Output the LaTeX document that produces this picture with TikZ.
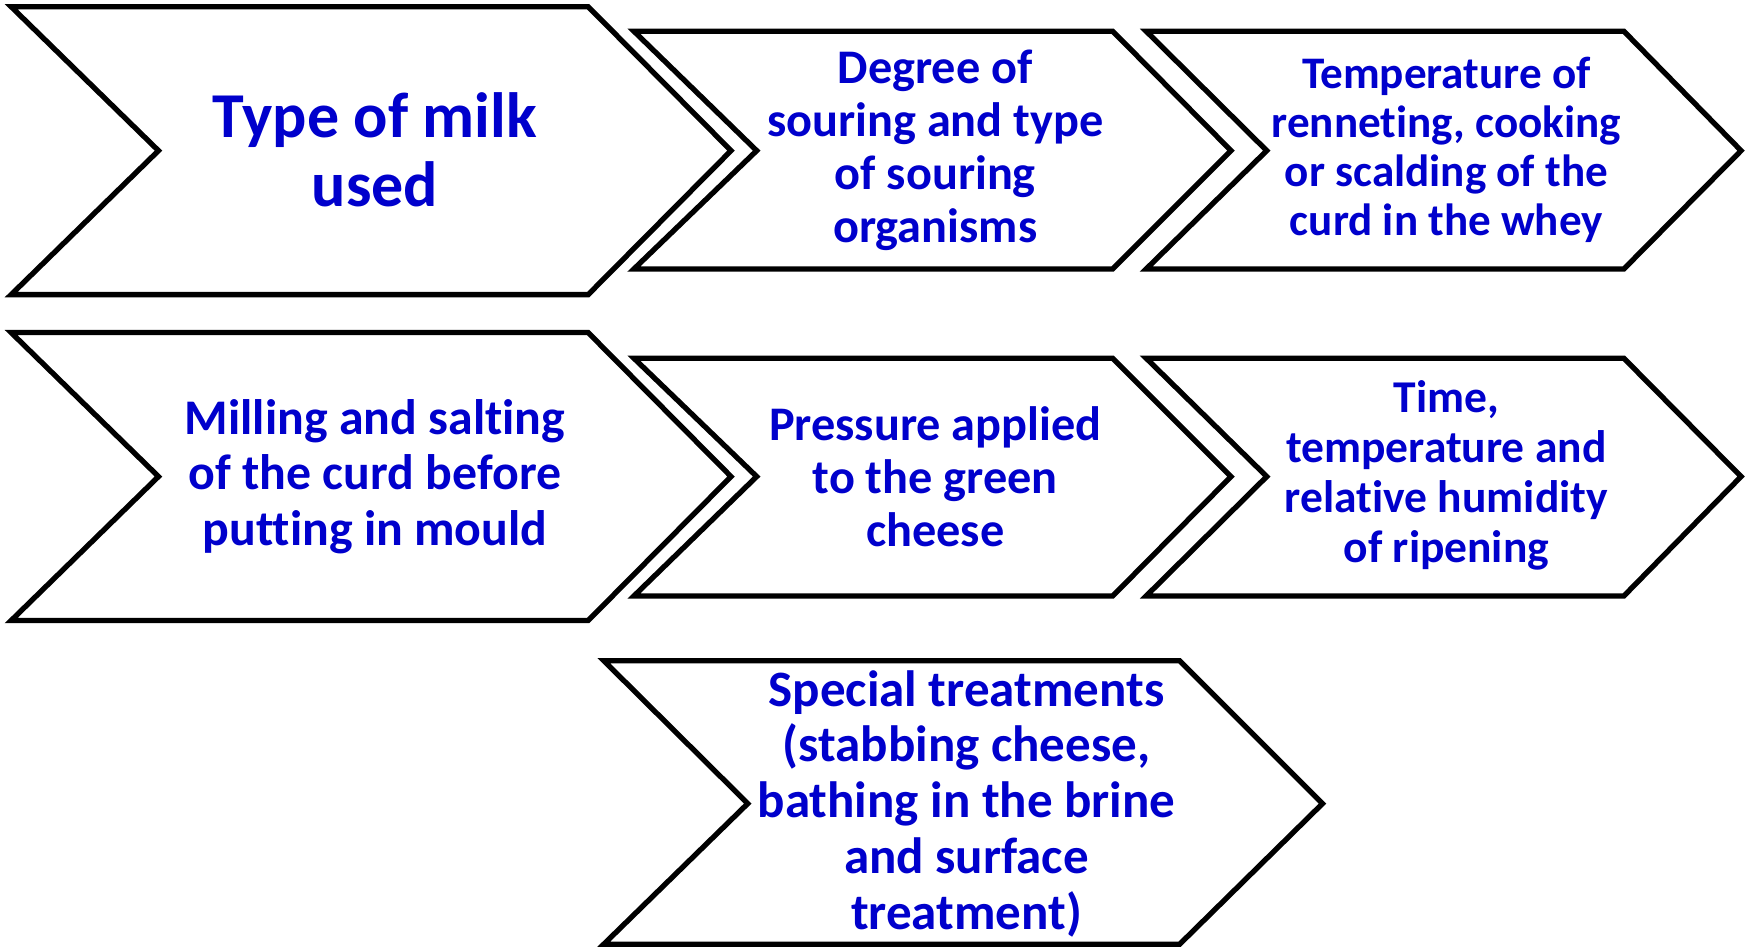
\documentclass[tikz,border=0pt]{standalone}
\usepackage{fontspec}
\setmainfont[RawFeature={-liga;-clig;-calt;-dlig}]{Carlito}
\definecolor{txtblue}{RGB}{0,0,204}
\newcommand\tibrk{t\kern0pt i}
\tikzset{
  chev/.style={draw=black, line width=1.35pt, line join=miter, fill=white},
  lbl/.style={text=txtblue, font=\bfseries, align=center, inner sep=0pt},
}
\begin{document}
\begin{tikzpicture}[x=0.01cm,y=0.01cm]
\useasboundingbox (0,0) rectangle (1568,848);
% row 1
\draw[chev] (10,842) -- (527,842) -- (655,713) -- (527,584) -- (10,584) -- (142,713) -- cycle;
\draw[chev] (568,820) -- (997,820) -- (1103,713) -- (997,607) -- (568,607) -- (678,713) -- cycle;
\draw[chev] (1027,820) -- (1455,820) -- (1560,713) -- (1455,607) -- (1027,607) -- (1135,713) -- cycle;
% row 2
\draw[chev] (10,550) -- (527,550) -- (655,421) -- (527,292) -- (10,292) -- (142,421) -- cycle;
\draw[chev] (568,527) -- (997,527) -- (1103,421) -- (997,314) -- (568,314) -- (678,421) -- cycle;
\draw[chev] (1027,527) -- (1455,527) -- (1560,421) -- (1455,314) -- (1027,314) -- (1135,421) -- cycle;
% row 3
\draw[chev] (541,256) -- (1057,256) -- (1185,128) -- (1057,2) -- (541,2) -- (670,128) -- cycle;
% texts
\node[lbl, font=\bfseries\fontsize{16.3}{17.6}\selectfont] (a) at (336,714) {Type of milk\\used};
\node[lbl, font=\bfseries\fontsize{12.3}{13.5}\selectfont] (b) at (838,713) {Degree of\\souring and type\\of souring\\organisms};
\node[lbl, font=\bfseries\fontsize{11.5}{12.5}\selectfont] (c) at (1296,714) {Temperature of\\renne\tibrk ng, cooking\\or scalding of the\\curd in the whey};
\node[lbl, font=\bfseries\fontsize{12.7}{14.2}\selectfont] (d) at (336,421) {Milling and sal\tibrk ng\\of the curd before\\put\tibrk ng in mould};
\node[lbl, font=\bfseries\fontsize{12.3}{13.5}\selectfont] (e) at (838,421) {Pressure applied\\to the green\\cheese};
\node[lbl, font=\bfseries\fontsize{11.6}{12.8}\selectfont] (f) at (1296,422) {Time,\\temperature and\\rela\tibrk ve humidity\\of ripening};
\node[lbl, font=\bfseries\fontsize{13}{14.2}\selectfont] (g) at (866,128) {Special treatments\\(stabbing cheese,\\bathing in the brine\\and surface\\treatment)};
\end{tikzpicture}
\end{document}
